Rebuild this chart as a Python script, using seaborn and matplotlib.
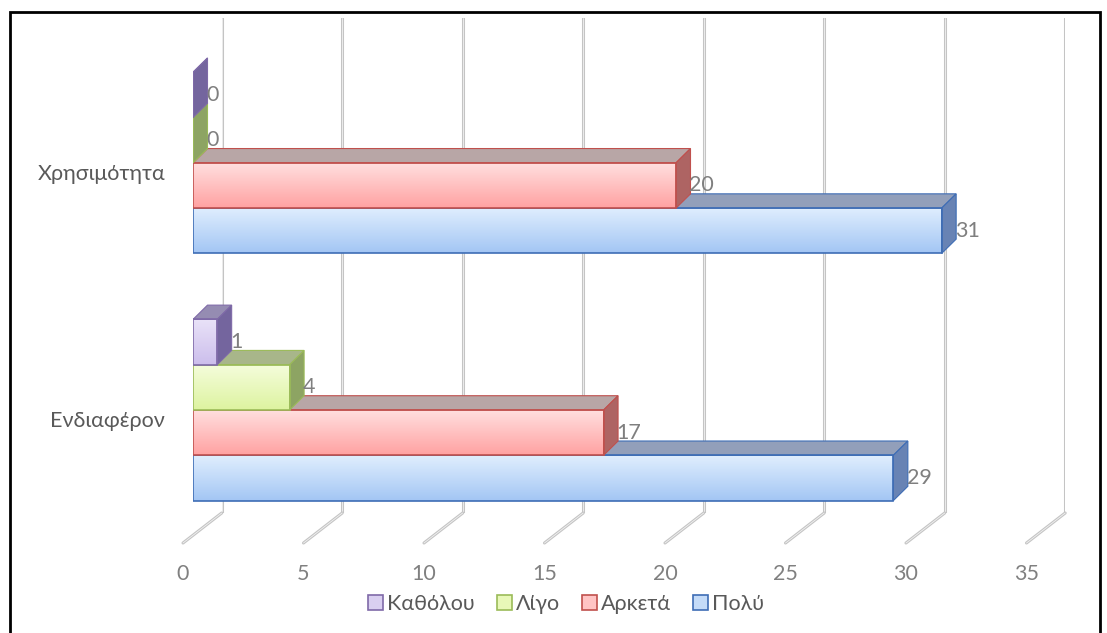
import numpy as np
import pandas as pd
import seaborn as sns
import matplotlib.pyplot as plt
from matplotlib.patches import Polygon, Rectangle, Patch
from matplotlib.lines import Line2D
from matplotlib.colors import to_rgb
from matplotlib.transforms import ScaledTranslation

# ---------------- data ----------------
categories = ['Χρησιμότητα', 'Ενδιαφέρον']
series = ['Καθόλου', 'Λίγο', 'Αρκετά', 'Πολύ']
katholou = [0, 1]
ligo = [0, 4]
arketa = [20, 17]
poly = [31, 29]
xticks = [0, 5, 10, 15, 20, 25, 30, 35]

values = {'Καθόλου': katholou, 'Λίγο': ligo, 'Αρκετά': arketa, 'Πολύ': poly}
rows = []
for s in series:
    for c, v in zip(categories, values[s]):
        rows.append({'category': c, 'series': s, 'value': v})
df = pd.DataFrame(rows)

# ---------------- styles ----------------
grad_top = {'Καθόλου': '#E9E2F8', 'Λίγο': '#F5FDDC', 'Αρκετά': '#FFE0E0', 'Πολύ': '#E0EEFE'}
grad_bot = {'Καθόλου': '#CCBEEC', 'Λίγο': '#DDF3A0', 'Αρκετά': '#FFA2A2', 'Πολύ': '#A3C6F4'}
edge_c = {'Καθόλου': '#7F6AA8', 'Λίγο': '#9BBB59', 'Αρκετά': '#C0504D', 'Πολύ': '#3E6DB5'}
top_c = {'Καθόλου': '#958CB2', 'Λίγο': '#A8B68A', 'Αρκετά': '#B8A6A6', 'Πολύ': '#929FBA'}
side_c = {'Καθόλου': '#74659E', 'Λίγο': '#8DA463', 'Αρκετά': '#AE6463', 'Πολύ': '#6883B4'}
legend_fill = {'Καθόλου': '#D9CFF0', 'Λίγο': '#E8F8B8', 'Αρκετά': '#FFC4C4', 'Πολύ': '#C4DBF8'}

sns.set_style('white')
plt.rcParams['font.family'] = ['Lato', 'DejaVu Sans']
FS = 15.5

W, H = 1107, 633
fig = plt.figure(figsize=(W / 100, H / 100), dpi=100)


def fr(left, top, w, h):
    return [left / W, 1 - (top + h) / H, w / W, h / H]


PX_UNIT = 24.1

# back wall with gridlines
ax_wall = fig.add_axes(fr(221.7, 18, 35 * PX_UNIT, 495), zorder=0)
ax_wall.set_xlim(0, 35)
ax_wall.set_ylim(0, 1)
for v in xticks:
    ax_wall.axvline(v, color='#C4C4C4', lw=2.2)
    ax_wall.axvline(v, color='#F2F2F2', lw=0.6)
ax_wall.axis('off')

# floor front edge holding the value labels
ax_floor = fig.add_axes(fr(183, 542, 35 * PX_UNIT, 1), zorder=0)
ax_floor.set_xlim(0, 35)
ax_floor.set_xticks(xticks)
ax_floor.set_xticklabels([str(v) for v in xticks], color='#808080', fontsize=FS)
ax_floor.set_yticks([])
ax_floor.tick_params(axis='x', length=0, pad=15)
for sp in ax_floor.spines.values():
    sp.set_visible(False)
ax_floor.patch.set_alpha(0)

# floor diagonals
inv = fig.transFigure.inverted()
for v in xticks:
    back = inv.transform(ax_wall.transData.transform((v, 0)))
    front = inv.transform(ax_floor.transData.transform((v, ax_floor.get_ylim()[0])))
    fig.add_artist(Line2D([back[0], front[0]], [back[1], front[1]], transform=fig.transFigure,
                          color='#C4C4C4', lw=2.2, zorder=1))
    fig.add_artist(Line2D([back[0], front[0]], [back[1], front[1]], transform=fig.transFigure,
                          color='#F2F2F2', lw=0.6, zorder=1))

# main bar axes (front plane)
ax = fig.add_axes(fr(193, 18, 35 * 24.15, 525), zorder=2)
ax.patch.set_alpha(0)
sns.barplot(data=df, y='category', x='value', hue='series', hue_order=series,
            order=categories, orient='h', width=0.733, ax=ax, legend=False,
            palette=legend_fill, saturation=1)

XMAX = 35
YLIM = (1.538, -0.586)
dx = 14.5 / 24.15
dy = -14.3 / 247.1

for i, (name, cont) in enumerate(zip(series, ax.containers)):
    z = 10 + (len(series) - 1 - i) * 4
    c0 = np.array(to_rgb(grad_top[name]))
    c1 = np.array(to_rgb(grad_bot[name]))
    t = np.linspace(0, 1, 64)[:, None]
    grad = (c0 * (1 - t) + c1 * t)[:, None, :]
    for bar in cont:
        x0 = bar.get_x()
        w = bar.get_width()
        y = bar.get_y()
        h = bar.get_height()
        yt, yb = min(y, y + h), max(y, y + h)
        x1 = x0 + w
        if w > 0:
            ax.imshow(grad, extent=(x0, x1, yb, yt), aspect='auto', zorder=z,
                      interpolation='bilinear')
        bar.set_facecolor('none')
        bar.set_edgecolor(edge_c[name])
        bar.set_linewidth(1.2)
        bar.set_zorder(z + 1)
        top = Polygon([(x0, yt), (x1, yt), (x1 + dx, yt + dy), (x0 + dx, yt + dy)],
                      closed=True, facecolor=top_c[name], edgecolor=edge_c[name],
                      lw=0.8, zorder=z + 0.5)
        side = Polygon([(x1, yt), (x1, yb), (x1 + dx, yb + dy), (x1 + dx, yt + dy)],
                       closed=True, facecolor=side_c[name], edgecolor=edge_c[name],
                       lw=0.8, zorder=z + 0.6)
        ax.add_patch(top)
        ax.add_patch(side)
    texts = ax.bar_label(cont, labels=[str(v) for v in values[name]], padding=9.5,
                         color='#7F7F7F', fontsize=FS)
    for tx in texts:
        tx.set_zorder(40)

ax.set_xlim(0, XMAX)
ax.set_ylim(*YLIM)
ax.set_xticks([])
ax.set_xlabel('')
ax.set_ylabel('')
for sp in ax.spines.values():
    sp.set_visible(False)
ax.tick_params(axis='y', length=0, pad=20, labelsize=FS, labelcolor='#595959')
for lab in ax.get_yticklabels():
    lab.set_transform(lab.get_transform() + ScaledTranslation(0, -9 / 100, fig.dpi_scale_trans))

# legend
handles = [Patch(facecolor=legend_fill[s], edgecolor=edge_c[s], lw=1.2) for s in series]
leg = fig.legend(handles, series, loc='center', bbox_to_anchor=(566 / W, 1 - 604 / H),
                 ncol=4, frameon=False, handlelength=0.7, handleheight=0.7,
                 handletextpad=0.2, columnspacing=1.0, fontsize=FS)
for tx in leg.get_texts():
    tx.set_color('#595959')

# outer frame
fig.add_artist(Rectangle((10 / W, -0.02), (1100 - 10) / W, (H - 12) / H + 0.02,
                         transform=fig.transFigure, fill=False, lw=2, ec='black', zorder=50))

fig.savefig('out.png', dpi=100)
